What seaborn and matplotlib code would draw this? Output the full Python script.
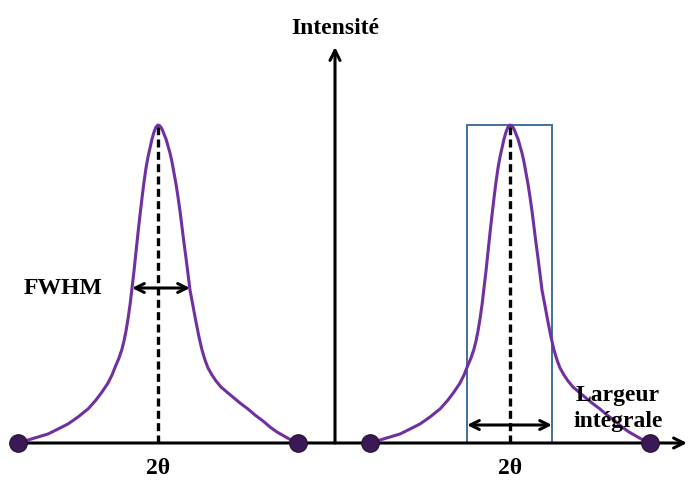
import numpy as np
import pandas as pd
import matplotlib
matplotlib.use("Agg")
import matplotlib.pyplot as plt
import seaborn as sns
from matplotlib.patches import Rectangle

# peak profile (offset from centre, height above baseline)
left_dx = [140, 130, 120, 110, 100, 90, 80, 70, 62, 56, 50, 46, 42, 39, 36, 34, 32, 30,
           28, 26, 24, 22, 20, 18, 16, 14, 12, 10, 8, 6, 4, 2, 0]
left_h = [0, 3, 6, 9, 14, 19, 26, 34, 43, 51, 60, 68, 78, 85, 94, 102, 112, 124,
          138, 155, 172, 191, 210, 228, 245, 261, 275, 286, 295, 304, 311, 316, 318]
right_dx = [2, 4, 6, 8, 10, 12, 14, 16, 18, 20, 22, 24, 26, 28, 30, 32, 35, 38, 41, 44,
            47, 50, 54, 58, 63, 70, 76, 82, 90, 97, 105, 112, 119, 126, 133, 140]
right_h = [317, 314, 309, 304, 297, 290, 281, 270, 259, 246, 232, 216, 200, 185, 169, 153,
           137, 121, 106, 93, 83, 75, 68, 62, 56, 50, 45, 40, 34, 28, 22, 16, 11, 7, 3, 0]

peak_centers = [158, 510]
peak_height = 318
fwhm_ends = [132, 190]
fwhm_level = 155
integral_ends = [467, 552]
integral_level = 18
axis_x = 335

sns.set_theme(style="white")
plt.rcParams['font.family'] = ['Liberation Serif', 'DejaVu Serif']

fig = plt.figure(figsize=(6.88, 4.80), dpi=100)
ax = fig.add_axes([0, 0, 1, 1])
ax.set_xlim(0, 688)
ax.set_ylim(-37, 443)
ax.axis('off')

purple = '#7030A0'
ball = '#3b1856'

rows = []
for i, c in enumerate(peak_centers):
    for dx, h in zip(left_dx, left_h):
        rows.append({'peak': i, 'x': c - dx, 'y': h})
    for dx, h in zip(right_dx, right_h):
        rows.append({'peak': i, 'x': c + dx, 'y': h})
df = pd.DataFrame(rows)

# axes with arrows
ax.annotate('', xy=(687, 0), xytext=(18, 0),
            arrowprops=dict(arrowstyle='->', lw=2.2, color='black', mutation_scale=18,
                            shrinkA=0, shrinkB=0))
ax.annotate('', xy=(axis_x, 396), xytext=(axis_x, 0),
            arrowprops=dict(arrowstyle='->', lw=2.2, color='black', mutation_scale=18,
                            shrinkA=0, shrinkB=0))

# integral breadth rectangle
ax.add_patch(Rectangle((integral_ends[0], 0), integral_ends[1] - integral_ends[0], peak_height,
                       fill=False, edgecolor='#41719C', lw=1.4, zorder=2))

# dashed lines at peak centres
for c in peak_centers:
    ax.plot([c, c], [0, peak_height], color='black', lw=2.4,
            linestyle=(0, (2.4, 1.3)), zorder=3)

sns.lineplot(data=df, x='x', y='y', units='peak', estimator=None, sort=False,
             color=purple, lw=2.2, ax=ax, zorder=4, legend=False)

ends_x = [c - left_dx[0] for c in peak_centers] + [c + right_dx[-1] for c in peak_centers]
sns.scatterplot(x=ends_x, y=[0] * len(ends_x), s=160, color=ball, edgecolor='#24102f',
                linewidth=0.8, ax=ax, zorder=5, legend=False)

# width arrows
ax.annotate('', xy=(fwhm_ends[0], fwhm_level), xytext=(fwhm_ends[1], fwhm_level),
            arrowprops=dict(arrowstyle='<->', lw=2.2, color='black', mutation_scale=16,
                            shrinkA=0, shrinkB=0), zorder=6)
ax.annotate('', xy=(integral_ends[0], integral_level), xytext=(integral_ends[1], integral_level),
            arrowprops=dict(arrowstyle='<->', lw=2.2, color='black', mutation_scale=16,
                            shrinkA=0, shrinkB=0), zorder=6)

# labels
tk = dict(fontsize=17, fontweight='bold', color='black', zorder=7)
ax.text(axis_x, 415, 'Intensité', ha='center', va='center', **tk)
for c in peak_centers:
    ax.text(c, -25, '2θ', ha='center', va='center', **tk)
ax.text(63, 155, 'FWHM', ha='center', va='center', **tk)
ax.text(618, 48, 'Largeur', ha='center', va='center', **tk)
ax.text(618, 21, 'intégrale', ha='center', va='center', **tk)

fig.savefig('out.png', dpi=100)
